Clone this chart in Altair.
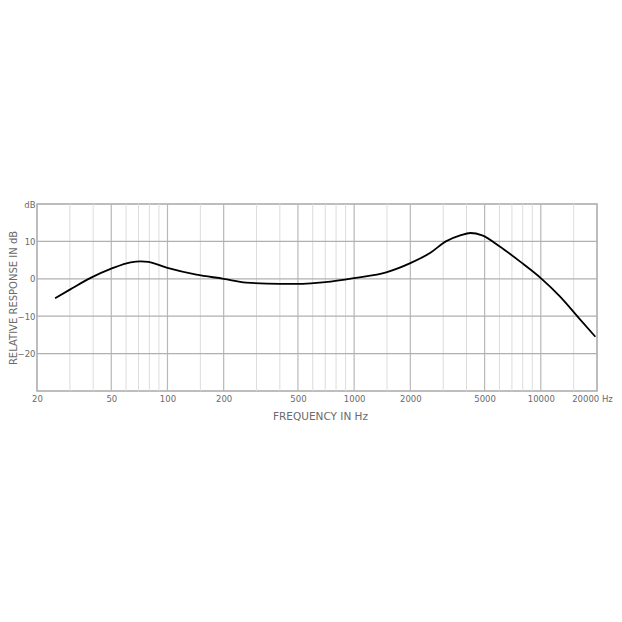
import altair as alt
import pandas as pd

# Frequency response curve
freq = [25, 30, 39, 50, 63.5, 72, 79, 100, 143, 200, 264, 400, 530, 700, 1000,
        1500, 2000, 2550, 3100, 3700, 4200, 4850, 6000, 7750, 10000, 12650, 16000, 19600]
db = [-5.2, -2.9, 0.3, 2.7, 4.4, 4.65, 4.5, 2.9, 1.1, 0.0, -1.0, -1.35, -1.35, -0.9, 0.2,
      1.8, 4.2, 6.9, 10.0, 11.6, 12.25, 11.6, 8.7, 4.6, 0.2, -4.7, -10.5, -15.5]

major_x = [20, 50, 100, 200, 500, 1000, 2000, 5000, 10000, 20000]
minor_x = [30, 40, 60, 70, 80, 90, 150, 300, 400, 600, 700, 800, 900, 1500,
           3000, 4000, 6000, 7000, 8000, 9000, 15000]
h_grid = [-20, -10, 0, 10]
y_ticks = [-20, -10, 0, 10, 20]

curve = pd.DataFrame({"f": freq, "db": db})
minor_df = pd.DataFrame({"f": minor_x})
major_df = pd.DataFrame({"f": major_x[1:-1]})
hgrid_df = pd.DataFrame({"v": h_grid})

FONT = "DejaVu Sans"
GRAY = "#6a6a6a"

xscale = alt.Scale(type="log", domain=[20, 20000], nice=False)
yscale = alt.Scale(domain=[-30, 20], nice=False, zero=False)

xaxis = alt.Axis(
    values=major_x, grid=False, domain=False, ticks=False,
    labelExpr="datum.value == 20000 ? '20000 Hz' : datum.label",
    labelOffset={"condition": {"test": "datum.value == 20000", "value": -5}, "value": 0},
    format="d", labelPadding=3, labelFontSize=8.5, labelColor=GRAY, labelFont=FONT,
    title="FREQUENCY IN Hz", titleFont=FONT, titleFontSize=10.5, titleFontWeight="normal",
    titleColor=GRAY, titleX=283, titleY=25, titleAlign="center", titleBaseline="middle",
    labelFlush=False, labelOverlap=False,
)
yaxis = alt.Axis(
    values=y_ticks, grid=False, domain=False, ticks=False,
    labelExpr="datum.value == 20 ? 'dB' : datum.label",
    labelPadding=2, labelFontSize=8.5, labelColor=GRAY, labelFont=FONT,
    title="RELATIVE RESPONSE IN dB", titleFont=FONT, titleFontSize=10,
    titleFontWeight="normal", titleColor=GRAY, titleAngle=-90, titleX=-24, titleY=93.5,
    titleAlign="center", titleBaseline="middle", labelFlush=False, labelOverlap=False,
)

minor = alt.Chart(minor_df).mark_rule(color="#dcdcdc", strokeWidth=1).encode(
    x=alt.X("f:Q", scale=xscale, axis=xaxis)
)
major = alt.Chart(major_df).mark_rule(color="#b8b8b8", strokeWidth=1.2).encode(
    x=alt.X("f:Q", scale=xscale)
)
hgrid = alt.Chart(hgrid_df).mark_rule(color="#b0b0b0", strokeWidth=1.2).encode(
    y=alt.Y("v:Q", scale=yscale, axis=yaxis)
)
line = alt.Chart(curve).mark_line(color="black", strokeWidth=1.8, interpolate="monotone").encode(
    x=alt.X("f:Q", scale=xscale),
    y=alt.Y("db:Q", scale=yscale),
)

chart = (
    alt.layer(minor, major, hgrid, line)
    .properties(
        width=560, height=187,
        autosize=alt.AutoSizeParams(type="none"),
        padding={"left": 29, "top": 196, "right": 17, "bottom": 40},
        background="white",
    )
    .configure_view(stroke="#a8a8a8", strokeWidth=1.5)
)

chart.save("out.html", embed_options={"renderer": "svg", "actions": False})
